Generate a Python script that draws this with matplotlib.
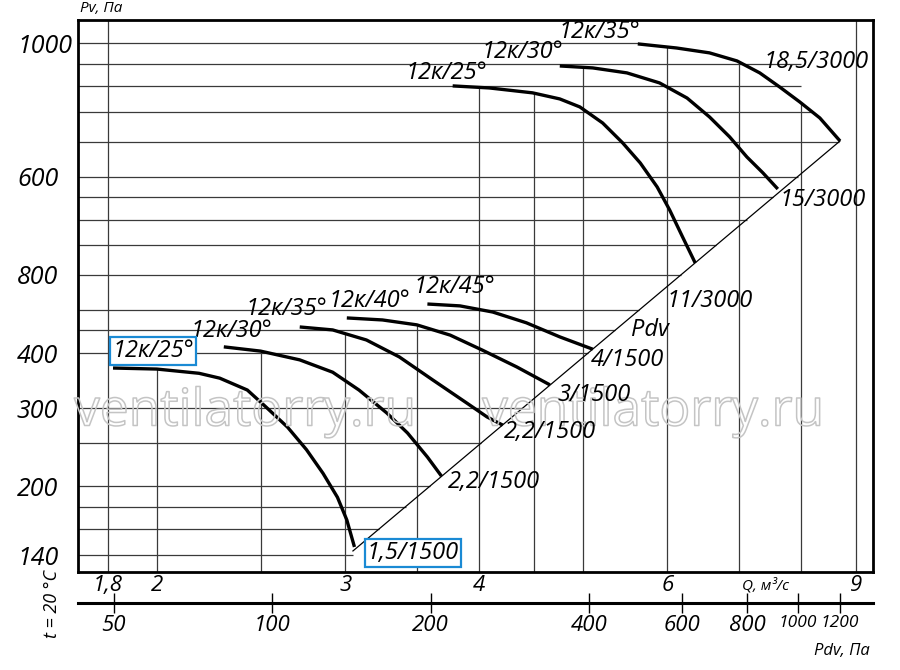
import matplotlib
matplotlib.use("Agg")
import matplotlib.pyplot as plt
import matplotlib.patheffects as pe
from matplotlib.ticker import NullLocator
import numpy as np

plt.rcParams['font.family'] = ['Open Sans', 'DejaVu Sans']
plt.rcParams['font.style'] = 'italic'

# curves: Q (m3/s) vs Pv (Pa)
q_25_1500 = [1.82, 2.00, 2.19, 2.29, 2.43, 2.53, 2.65, 2.76, 2.86, 2.95, 3.01, 3.06]
p_25_1500 = [370, 368, 360, 351, 330, 302, 272, 242, 214, 189, 168, 146]
q_30_1500 = [2.31, 2.50, 2.72, 2.92, 3.09, 3.28, 3.43, 3.58, 3.69]
p_30_1500 = [413, 404, 386, 362, 330, 293, 264, 233, 211]
q_35_1500 = [2.72, 2.92, 3.14, 3.37, 3.62, 3.90, 4.07, 4.21]
p_35_1500 = [458, 451, 428, 392, 348, 308, 287, 275]
q_40_1500 = [3.01, 3.25, 3.50, 3.76, 4.03, 4.34, 4.66]
p_40_1500 = [480, 475, 463, 439, 406, 372, 339]
q_45_1500 = [3.58, 3.84, 4.12, 4.43, 4.76, 5.11]
p_45_1500 = [516, 511, 495, 468, 435, 408]
q_25_3000 = [3.78, 4.09, 4.49, 4.76, 4.97, 5.22, 5.45, 5.66, 5.87, 6.03, 6.20, 6.37]
p_25_3000 = [1603, 1586, 1546, 1498, 1437, 1322, 1192, 1074, 948, 841, 731, 639]
q_30_3000 = [4.76, 5.11, 5.50, 5.90, 6.26, 6.57, 6.86, 7.12, 7.37, 7.61]
p_30_3000 = [1778, 1760, 1715, 1628, 1505, 1364, 1230, 1108, 1020, 938]
q_35_3000 = [5.63, 6.12, 6.57, 6.97, 7.32, 7.64, 7.98, 8.33, 8.70]
p_35_3000 = [1994, 1952, 1903, 1825, 1715, 1594, 1474, 1357, 1204]

# dynamic pressure line
q_pdv_line = [3.05, 8.70]
p_pdv_line = [143, 1204]

curves = [(q_25_1500, p_25_1500), (q_30_1500, p_30_1500), (q_35_1500, p_35_1500),
          (q_40_1500, p_40_1500), (q_45_1500, p_45_1500), (q_25_3000, p_25_3000),
          (q_30_3000, p_30_3000), (q_35_3000, p_35_3000)]

q_grid = [1.8, 2, 2.5, 3, 3.5, 4, 4.5, 5, 6, 7, 8, 9]
p_grid = [140, 160, 180, 200, 250, 300, 400, 450, 500, 600, 700, 800, 900,
          1000, 1200, 1400, 1600, 1800, 2000]

q_ticks = [1.8, 2, 3, 4, 6, 9]
q_labels = ['1,8', '2', '3', '4', '6', '9']
p_ticks = [2000, 1000, 600, 400, 300, 200, 140]
p_labels = ['1000', '600', '800', '400', '300', '200', '140']
pdv_ticks = [50, 100, 200, 400, 600, 800, 1000, 1200]
pdv_labels = ['50', '100', '200', '400', '600', '800', '1000', '1200']

xmin, xmax = 1.688, 9.34
ymin, ymax = 128.2, 2258

fig = plt.figure(figsize=(9, 6.7), dpi=100)
ax = fig.add_axes([0.0867, 0.1463, 0.8833, 0.8239])
ax.set_xscale('log')
ax.set_yscale('log')
ax.set_xlim(xmin, xmax)
ax.set_ylim(ymin, ymax)

gcol = '#3a3a3a'
# vertical grid: up to the top envelope of the curves
for q in q_grid:
    tops = [np.interp(q, cq, cp) for cq, cp in curves if cq[0] <= q <= cq[-1]]
    top = max(tops) if tops else ymax
    ax.vlines(q, ymin, top, color=gcol, lw=0.9, zorder=1)

# horizontal grid: up to the Pdv line, above it out to the outer curve
for p in p_grid:
    if p <= p_pdv_line[-1]:
        q_end = 10 ** np.interp(np.log10(p), np.log10(p_pdv_line), np.log10(q_pdv_line))
    elif p > p_35_3000[0]:
        q_end = q_35_3000[0]
    else:
        q_end = max(np.interp(p, p_35_3000[::-1], q_35_3000[::-1]), q_grid[-2])
    ax.hlines(p, xmin, q_end, color=gcol, lw=0.9, zorder=1)

ax.plot(q_pdv_line, p_pdv_line, color='black', lw=0.9, zorder=2)
for cq, cp in curves:
    ax.plot(cq, cp, color='black', lw=2.4, solid_capstyle='butt',
            solid_joinstyle='round', zorder=3)

ax.set_xticks(q_ticks, q_labels)
ax.xaxis.set_minor_locator(NullLocator())
ax.tick_params(axis='x', length=0, pad=2, labelsize=16)
ax.set_yticks(p_ticks, p_labels)
ax.yaxis.set_minor_locator(NullLocator())
ax.tick_params(axis='y', length=0, pad=44, labelsize=18)
for lbl in ax.get_yticklabels():
    lbl.set_horizontalalignment('left')
for s in ax.spines.values():
    s.set_linewidth(2)


def q_to_pdv(q):
    q = np.asarray(q, dtype=float)
    return 14.74 * np.power(np.clip(q, 1e-9, None), 2.034)


def pdv_to_q(p):
    p = np.asarray(p, dtype=float)
    return np.power(np.clip(p, 1e-9, None) / 14.74, 1 / 2.034)


sec = ax.secondary_xaxis(-0.056, functions=(q_to_pdv, pdv_to_q))
sec.set_xticks(pdv_ticks, pdv_labels)
sec.xaxis.set_minor_locator(NullLocator())
sec.tick_params(direction='inout', length=14, width=1, pad=2, labelsize=16)
sec.spines['bottom'].set_linewidth(2.2)
# the last two labels sit close together
for lbl in sec.get_xticklabels()[-2:]:
    lbl.set_fontsize(12.5)


def px(x, y):
    return x / 900, 1 - y / 670


lab = dict(ha='center', va='center', fontsize=17, zorder=5)
blue = '#1a8ad4'
box = dict(boxstyle='square,pad=0.1', fc='white', ec=blue, lw=1.6)

fig.text(*px(599, 32), '12к/35°', **lab)
fig.text(*px(522, 52), '12к/30°', **lab)
fig.text(*px(446, 73), '12к/25°', **lab)
fig.text(*px(816, 62), '18,5/3000', **lab)
fig.text(*px(823, 200), '15/3000', **lab)
fig.text(*px(710, 301), '11/3000', **lab)
fig.text(*px(650, 330), 'Pdv', **lab)
fig.text(*px(627, 360), '4/1500', **lab)
fig.text(*px(594, 395), '3/1500', **lab)
fig.text(*px(550, 432), '2,2/1500', **lab)
fig.text(*px(494, 482), '2,2/1500', **lab)
fig.text(*px(413, 553), '1,5/1500', bbox=box, **lab)
fig.text(*px(454, 287), '12к/45°', **lab)
fig.text(*px(369, 301), '12к/40°', **lab)
fig.text(*px(286, 309), '12к/35°', **lab)
fig.text(*px(231, 331), '12к/30°', **lab)
fig.text(*px(153, 351), '12к/25°', bbox=box, **lab)

fig.text(*px(101, 9), 'Pv, Па', ha='center', va='center', fontsize=11)
fig.text(*px(765, 586), 'Q, м³/с', ha='center', va='center', fontsize=11)
fig.text(*px(842, 651), 'Pdv, Па', ha='center', va='center', fontsize=12)
fig.text(*px(52, 604), 't = 20 °C', ha='center', va='center', fontsize=13, rotation=90)

# watermark
for cx in (245, 653):
    fig.text(*px(cx, 412), 'ventilatorry.ru', ha='center', va='center', fontsize=37,
             fontstyle='normal', color='none', zorder=4,
             path_effects=[pe.Stroke(linewidth=1.1, foreground='#c4c4c4')])

fig.savefig('out.png', dpi=100)
